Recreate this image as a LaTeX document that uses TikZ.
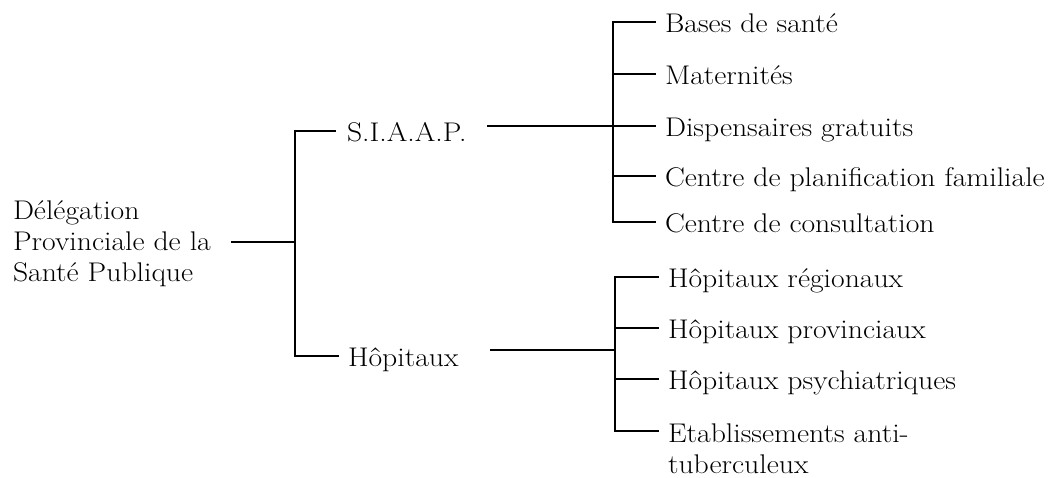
\documentclass[tikz,border=0pt]{standalone}
\usepackage{fontspec}
\setmainfont{Latin Modern Roman}[FakeStretch=1.1]
\usetikzlibrary{calc}
\begin{document}
\begin{tikzpicture}[x=1pt,y=-1pt,
  lbl/.style={inner sep=0pt, outer sep=0pt, font=\fontsize{27}{31}\selectfont},
  leaf/.style={lbl, text height=25pt, text depth=3pt, anchor=base west},
  multi/.style={lbl, align=left, anchor=base west},
  link/.style={line width=1.4pt, line cap=rect}]
\useasboundingbox (0,0) rectangle (1053,478);

% root of the organisation chart (base anchor = last line)
\node[multi] (root) at (13,282) {Délégation\\Provinciale de la\\Santé Publique};
\coordinate (j0) at (295,242);
\draw[link, shorten <=21pt] (root.east |- j0) -- (j0);

% first level
\node[leaf] (siaap) at (347,142) {S.I.A.A.P.};
\node[leaf] (hop) at (348,367) {Hôpitaux};
\draw[link] (j0 |- siaap.west) -- (j0 |- hop.west);
\draw[link, shorten >=12pt] (j0 |- siaap.west) -- (siaap.west);
\draw[link, shorten >=10pt] (j0 |- hop.west) -- (hop.west);

% services under S.I.A.A.P.
\coordinate (v1) at (613,0);
\node[leaf] (bases) at (665,33) {Bases de santé};
\node[leaf] (mater) at (665,85) {Maternités};
\node[leaf] (disp) at (665,137) {Dispensaires gratuits};
\node[leaf] (plan) at (665,187) {Centre de planification familiale};
\node[leaf] (consult) at (665,233) {Centre de consultation};
\draw[link] (v1 |- bases.west) -- (v1 |- consult.west);
\foreach \n in {bases,mater,disp,plan,consult}
  \draw[link, shorten >=10pt] (v1 |- \n.west) -- (\n.west);
\draw[link, shorten <=21pt] (siaap.east |- disp.west) -- (v1 |- disp.west);

% hospitals
\coordinate (v2) at (615,350);
\node[leaf] (hreg) at (668,288) {Hôpitaux régionaux};
\node[leaf] (hprov) at (668,339) {Hôpitaux provinciaux};
\node[leaf] (hpsy) at (668,390) {Hôpitaux psychiatriques};
\node[multi] (etab) at (668,473) {Etablissements anti-\\tuberculeux};
\coordinate (etabline) at ($(etab.base west)+(0,-42)$);
\draw[link] (v2 |- hreg.west) -- (v2 |- etabline);
\foreach \n in {hreg,hprov,hpsy}
  \draw[link, shorten >=10pt] (v2 |- \n.west) -- (\n.west);
\draw[link, shorten >=10pt] (v2 |- etabline) -- (etabline);
\draw[link, shorten <=32pt] (hop.east |- v2) -- (v2);
\end{tikzpicture}
\end{document}
